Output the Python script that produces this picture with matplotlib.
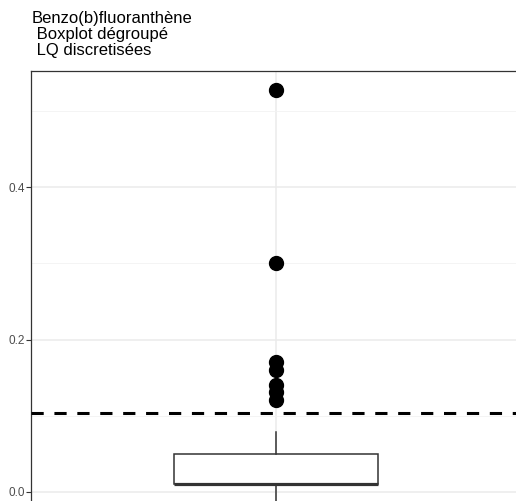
import matplotlib
matplotlib.use('Agg')
import matplotlib.pyplot as plt

# values
title = 'Benzo(b)fluoranthène\n Boxplot dégroupé\n LQ discretisées'
outliers = [0.527, 0.30, 0.17, 0.16, 0.14, 0.131, 0.121]
whisker_high = 0.079
q3 = 0.05
median = 0.011
q1 = 0.011
whisker_low = -0.03
lq_line = 0.104
y_ticks = [0.0, 0.2, 0.4]
y_tick_labels = ['0.0', '0.2', '0.4']

plt.rcParams['font.family'] = ['Liberation Sans', 'DejaVu Sans']

fig = plt.figure(figsize=(5.16, 5.01), dpi=100)
ax = fig.add_axes([31 / 516, 0, 1 - 31 / 516, 1 - 71 / 501])

stats = [{'med': median, 'q1': q1, 'q3': q3, 'whislo': whisker_low,
          'whishi': whisker_high, 'fliers': outliers}]
ax.bxp(stats, positions=[1], widths=0.75, showcaps=False, patch_artist=True,
       boxprops=dict(facecolor='white', edgecolor='#333333', linewidth=1.1),
       whiskerprops=dict(color='#333333', linewidth=1.1),
       medianprops=dict(color='#333333', linewidth=2.3),
       flierprops=dict(marker='o', markerfacecolor='black', markeredgecolor='black',
                       markersize=10, linestyle='none'),
       zorder=3)

ax.axhline(lq_line, color='black', linewidth=2.2, linestyle=(0, (4, 3.5)), zorder=4)

ax.set_xlim(1 - 245 / 273.3, 1 + 240 / 273.3)
ax.set_ylim((492 - 501) / 762.5, (492 - 71) / 762.5)

ax.set_yticks(y_ticks)
ax.set_yticklabels(y_tick_labels)
ax.set_yticks([0.1, 0.3, 0.5], minor=True)
ax.set_xticks([1])
ax.set_xticklabels([''])
ax.tick_params(axis='y', which='major', colors='#333333', labelcolor='#4D4D4D',
               labelsize=8.5, length=3.5, width=0.8, pad=1)
ax.tick_params(axis='y', which='minor', length=0)
ax.tick_params(axis='x', length=0)

ax.grid(True, which='major', color='#EBEBEB', linewidth=1.1, zorder=0)
ax.grid(True, which='minor', axis='y', color='#F2F2F2', linewidth=0.6, zorder=0)
ax.set_axisbelow(True)

for side in ['right', 'bottom']:
    ax.spines[side].set_visible(False)
for side in ['left', 'top']:
    ax.spines[side].set_color('#333333')
    ax.spines[side].set_linewidth(0.9)

fig.text(32 / 516, 1 - 11 / 501, title, ha='left', va='top', fontsize=12,
         color='black', linespacing=1.08)

fig.savefig('out.png', dpi=100)
